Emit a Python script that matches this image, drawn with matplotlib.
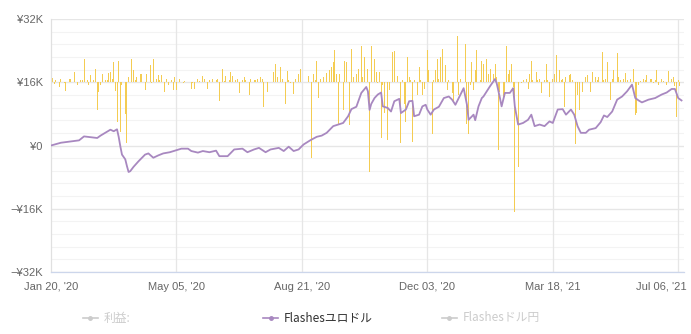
import matplotlib
matplotlib.use("Agg")
import matplotlib.pyplot as plt
import matplotlib.transforms as mtransforms
from matplotlib.lines import Line2D
import numpy as np

# ---------------- data ----------------
# x axis: trading-day index
tick_days = [0, 76, 152, 228, 304, 380]
tick_labels = ["Jan 20, '20", "May 05, '20", "Aug 21, '20", "Dec 03, '20", "Mar 18, '21", "Jul 06, '21"]

# cumulative profit (Flashesユロドル), in thousands of yen
line_day = [0, 6, 17, 20, 28, 30, 36, 38, 40, 41, 42, 43, 45, 46, 47, 48, 50, 53, 57, 59,
            62, 65, 68, 72, 76, 79, 83, 85, 89, 92, 96, 100, 102, 107, 111, 116, 119, 123, 126, 130,
            133, 138, 141, 144, 147, 150, 153, 157, 161, 164, 167, 171, 174, 177, 180, 182, 185, 188, 191, 192,
            193, 194, 196, 198, 200, 201, 204, 206, 208, 211, 212, 215, 217, 219, 220, 223, 225, 227, 228, 230,
            232, 235, 238, 241, 243, 245, 247, 249, 250, 252, 253, 256, 257, 259, 261, 262, 266, 269, 270, 272,
            273, 275, 278, 280, 281, 283, 286, 289, 291, 293, 296, 299, 302, 304, 307, 310, 312, 315, 317, 319,
            321, 324, 326, 330, 333, 335, 337, 340, 343, 346, 349, 352, 354, 356, 358, 362, 366, 370, 373, 376,
            378, 380, 382]
line_k = [0.0, 0.7, 1.3, 2.3, 1.9, 2.5, 4.0, 3.6, 4.1, 2.2, -0.2, -2.3, -3.5, -5.2, -6.7, -6.5, -5.4, -4.0, -2.3, -2.0,
          -3.1, -2.5, -2.0, -1.7, -1.2, -0.8, -0.8, -1.4, -1.8, -1.4, -1.7, -1.3, -2.7, -2.7, -1.0, -0.8, -1.7, -1.0, -0.6, -1.7,
          -1.0, -0.6, -1.4, -0.3, -1.4, -1.0, 0.25, 1.3, 2.2, 2.5, 3.2, 4.9, 5.3, 5.7, 7.4, 9.2, 9.8, 13.3, 14.8, 13.7,
          9.0, 10.5, 12.0, 12.9, 13.4, 9.9, 9.5, 8.6, 11.2, 11.8, 8.2, 9.1, 11.2, 11.3, 7.4, 7.8, 9.9, 10.3, 9.1, 7.8,
          9.1, 9.8, 12.0, 12.4, 11.6, 10.3, 12.0, 13.7, 14.5, 10.3, 6.5, 7.8, 6.4, 9.9, 12.0, 12.4, 15.0, 16.8, 15.8, 12.0,
          9.9, 13.3, 13.3, 14.5, 9.9, 5.3, 5.7, 6.5, 7.8, 4.9, 5.3, 4.9, 6.1, 5.7, 9.1, 9.2, 7.8, 9.1, 7.8, 4.9,
          3.2, 3.2, 4.0, 4.4, 5.9, 7.6, 7.2, 8.6, 11.6, 12.4, 13.7, 15.4, 12.0, 11.4, 10.9, 11.6, 12.0, 12.9, 13.4, 14.3,
          14.3, 12.0, 11.4]

# daily profit bars, in thousands of yen (drawn around the ¥16K level)
bar_day = [1, 2, 3, 5, 6, 8, 9, 11, 12, 14, 16, 18, 19, 20, 22, 23, 24, 26, 27, 28,
           29, 30, 31, 33, 34, 35, 36, 37, 38, 39, 40, 41, 42, 43, 45, 46, 47, 49, 50, 51,
           52, 54, 55, 57, 58, 60, 61, 62, 64, 65, 66, 67, 69, 70, 71, 73, 74, 75, 76, 78,
           80, 81, 83, 85, 86, 87, 89, 90, 92, 93, 95, 96, 98, 100, 101, 102, 104, 105, 106, 108,
           109, 110, 112, 113, 114, 116, 117, 118, 120, 121, 123, 124, 125, 127, 128, 129, 131, 135, 136, 137,
           139, 140, 142, 143, 144, 145, 147, 148, 150, 151, 156, 158, 159, 160, 161, 162, 163, 165, 166, 167,
           169, 170, 171, 172, 173, 174, 175, 177, 178, 179, 181, 182, 183, 185, 186, 188, 189, 190, 192, 193,
           194, 196, 197, 198, 199, 200, 201, 202, 204, 205, 207, 208, 210, 212, 213, 214, 215, 216, 217, 218,
           219, 220, 222, 223, 224, 225, 226, 228, 229, 231, 232, 233, 234, 235, 236, 237, 239, 240, 241, 243,
           244, 246, 247, 248, 249, 251, 252, 253, 254, 255, 256, 257, 258, 260, 261, 262, 264, 265, 266, 268,
           269, 270, 271, 272, 274, 275, 276, 277, 278, 279, 280, 281, 283, 285, 286, 288, 289, 290, 291, 292,
           294, 295, 296, 297, 299, 300, 301, 302, 304, 305, 306, 308, 309, 310, 311, 312, 314, 315, 316, 318,
           319, 320, 322, 324, 325, 327, 328, 330, 331, 332, 334, 335, 336, 337, 339, 340, 341, 343, 344, 345,
           347, 348, 349, 351, 353, 354, 355, 356, 357, 359, 360, 361, 363, 364, 365, 366, 367, 368, 370, 371,
           373, 374, 376, 377, 378, 379, 380, 381]
bar_k = [1.1, -0.5, 0.5, -1.2, 0.7, -0.3, -2.2, 0.7, 0.9, 2.6, -0.8, 0.5, 0.5, 6.0, 0.5, -0.8, 1.8, 0.5, 3.4, -7.0,
         -2.4, -0.8, 2.1, 0.5, 0.5, 2.4, 2.6, 0.7, 5.1, -2.1, -10.0, 5.3, -12.5, -0.8, -8.0, -15.4, 1.3, 5.8, 3.2, 0.5,
         1.3, 2.1, 2.1, -2.0, 2.1, 4.3, -0.3, 6.0, 0.9, 1.8, 0.5, 1.8, -2.4, 0.9, -0.8, 0.5, -2.0, 1.3, -2.0, 0.9,
         -0.2, 0.3, 0.5, -1.6, -0.2, -1.8, 0.9, 0.3, 1.5, 0.7, -1.6, 0.5, 0.9, 0.5, 0.9, -4.7, 3.4, 0.3, 1.5, 0.5,
         2.6, 1.5, 0.5, 0.9, -2.7, 0.5, 1.3, 0.5, -3.3, 0.9, 0.5, 0.5, 0.9, 1.3, 0.7, -6.2, -2.4, 2.6, 4.5, 1.3,
         3.9, 0.9, -5.4, 2.8, 0.5, -0.3, -2.9, 0.9, 2.2, 3.4, 1.5, -19.2, 2.2, 0.5, 5.5, -4.1, 0.9, 1.3, 1.8, 2.4,
         3.0, 3.9, 5.1, 8.1, 2.2, -10.9, 2.2, -7.1, 5.5, 5.1, -10.9, 8.4, 1.3, 2.2, 3.4, 9.2, 1.3, 6.3, 3.4, -22.6,
         9.2, 6.0, 2.6, -0.3, 2.6, -14.2, -0.8, -7.9, -14.6, -2.0, 7.6, 7.9, 1.5, -15.3, 0.5, -5.4, -10.0, 6.4, 1.3, 0.5,
         -15.0, 0.5, -3.3, 3.9, 0.5, -3.3, -1.6, 8.1, 3.2, -13.0, 0.5, 3.2, 6.0, 0.9, 6.4, 8.4, 4.3, -2.0, 0.5, -2.8,
         -4.9, 11.8, -3.3, 0.9, -3.7, 9.8, -10.5, -13.0, -0.8, 5.1, -2.0, 3.2, 8.1, 0.5, 5.5, 4.7, 6.0, 2.2, 3.4, 2.2,
         4.7, 1.3, -17.1, -2.4, -4.1, -3.7, 9.2, 2.2, 3.2, 4.7, -1.2, -32.7, -21.4, -0.3, 0.5, 0.9, -1.6, 2.2, 5.5, 0.5,
         2.6, 0.5, 0.9, -2.8, 0.5, 4.7, 0.5, -3.7, 0.9, 2.2, 6.8, 3.2, 0.5, 0.9, -6.2, 1.3, 1.8, 2.2, 0.5, -15.5,
         -3.3, -7.1, -2.4, 1.3, 1.8, -2.4, 2.6, 1.3, 0.5, 1.3, 7.6, 0.5, 0.9, 5.1, -4.4, 0.9, 3.2, 7.3, 1.3, 0.5,
         0.9, 2.4, 0.5, 0.9, 3.4, -8.4, -7.9, -0.8, 0.3, 0.9, 0.5, 1.8, 0.9, 0.9, -0.3, 0.5, 3.2, -0.8, 0.9, 0.3,
         -0.8, 2.8, 0.9, 1.3, -1.0, -8.9, 0.5, -1.0]

y_ticks = [-32000, -16000, 0, 16000, 32000]
y_tick_labels = ["\u2212¥32K", "\u2212¥16K", "¥0", "¥16K", "¥32K"]
legend_labels = ["利益:", "Flashesユロドル", "Flashesドル円"]

# ---------------- styling ----------------
W, H = 691, 334
fig = plt.figure(figsize=(W / 100, H / 100), dpi=100)
fig.patch.set_facecolor("white")

left, right, top, bottom = 51, 684, 19, 272
ax = fig.add_axes([left / W, 1 - bottom / H, (right - left) / W, (bottom - top) / H])

BAR_LEVEL = 16000
BAR_COLOR = "#f4cc52"
LINE_COLOR = "#a888c0"
GRID_MAJOR = "#e6e6e6"
GRID_MINOR = "#f3f3f3"
TEXT = "#666666"

ax.set_xlim(0, 383.5)
ax.set_ylim(-32000, 32000)

# grid
for yv in np.arange(-32000, 32001, 3200):
    ax.axhline(yv, color=GRID_MINOR, lw=0.8, zorder=0)
for yv in y_ticks:
    ax.axhline(yv, color=GRID_MAJOR, lw=0.9, zorder=0.5)
for xv in tick_days[1:]:
    ax.axvline(xv, color=GRID_MAJOR, lw=0.9, zorder=0.5)

bar_vals = np.array(bar_k) * 1000
ax.bar(bar_day, bar_vals, bottom=BAR_LEVEL, width=0.6, color=BAR_COLOR, linewidth=0, zorder=2)
ax.plot(line_day, np.array(line_k) * 1000, color=LINE_COLOR, lw=1.3, zorder=3, solid_joinstyle="round")

for s in ["top", "right"]:
    ax.spines[s].set_visible(False)
ax.spines["left"].set_color("#e0e0e0")
ax.spines["left"].set_linewidth(0.9)
ax.spines["bottom"].set_color("#ccd6eb")
ax.spines["bottom"].set_linewidth(0.9)

font_main = ["Liberation Sans", "DejaVu Sans"]
ax.set_yticks(y_ticks)
ax.set_yticklabels(y_tick_labels, fontsize=8, color=TEXT, family=font_main)
ax.set_xticks(tick_days)
ax.set_xticklabels(tick_labels, fontsize=8, color=TEXT, family=font_main)
ax.tick_params(axis="both", length=0)
ax.tick_params(axis="y", pad=6)
ax.tick_params(axis="x", pad=7)
last = ax.get_xticklabels()[-1]
last.set_horizontalalignment("right")
last.set_transform(last.get_transform() + mtransforms.ScaledTranslation(8 / 100, 0, fig.dpi_scale_trans))

# legend (manual)
font_jp = ["Noto Sans CJK JP", "DejaVu Sans"]
legend_y = 1 - 318 / H
items = [(83, 104, "#cccccc", "#cccccc"), (263, 284, LINE_COLOR, "#333333"), (442, 463, "#cccccc", "#cccccc")]
for (ix, tx, icol, tcol), lab in zip(items, legend_labels):
    fig.add_artist(Line2D([ix / W, (ix + 15) / W], [legend_y, legend_y], color=icol, lw=1.2,
                          marker=None, transform=fig.transFigure))
    fig.add_artist(Line2D([(ix + 7.5) / W], [legend_y], color=icol, marker="o", markersize=2.5,
                          transform=fig.transFigure))
    fig.text(tx / W, legend_y, lab, fontsize=8.5, color=tcol, family=font_jp, ha="left", va="center")

fig.savefig("out.png", dpi=100, facecolor="white")
